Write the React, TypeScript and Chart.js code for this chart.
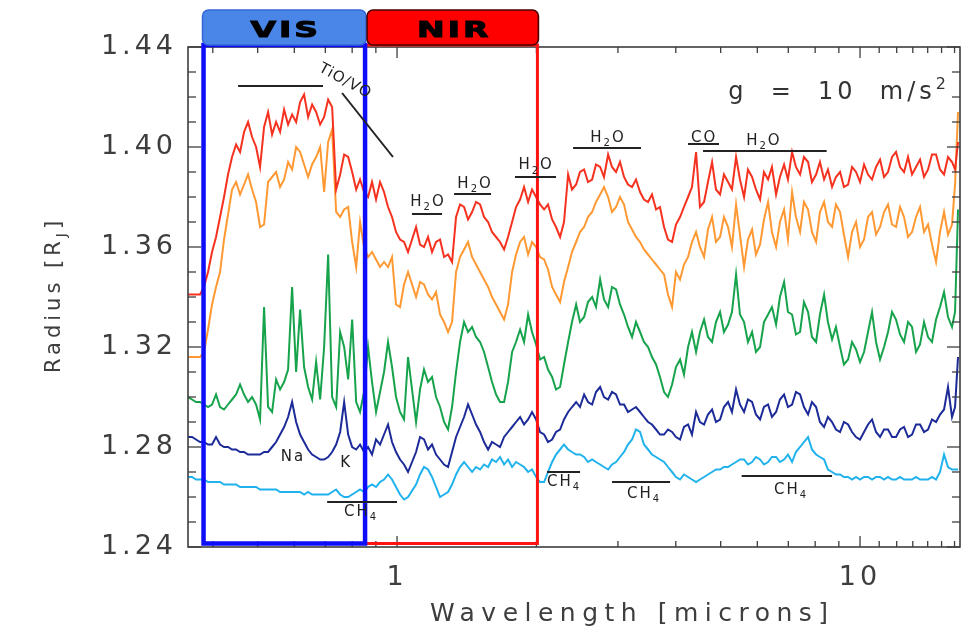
import React, { useEffect, useRef } from 'react';
import { Chart, registerables } from 'chart.js';

Chart.register(...registerables);

// Wavelength grid [microns]
const wavelengths = [
  0.3536, 0.3607, 0.3680, 0.3754, 0.3829, 0.3906, 0.3985, 0.4065,
  0.4147, 0.4230, 0.4315, 0.4402, 0.4491, 0.4581, 0.4673, 0.4767,
  0.4863, 0.4961, 0.5060, 0.5162, 0.5266, 0.5372, 0.5480, 0.5590,
  0.5703, 0.5817, 0.5934, 0.6054, 0.6175, 0.6299, 0.6426, 0.6555,
  0.6687, 0.6822, 0.6959, 0.7099, 0.7241, 0.7387, 0.7536, 0.7687,
  0.7842, 0.8000, 0.8161, 0.8320, 0.8487, 0.8658, 0.8830, 0.9009,
  0.9190, 0.9374, 0.9562, 0.9754, 0.9950, 1.0150, 1.0354, 1.0562,
  1.0992, 1.1212, 1.1436, 1.1666, 1.1901, 1.2141, 1.2385, 1.2634,
  1.2888, 1.3147, 1.3411, 1.3680, 1.3956, 1.4235, 1.4524, 1.4813,
  1.5113, 1.5414, 1.5727, 1.6039, 1.6365, 1.6691, 1.7030, 1.7368,
  1.7721, 1.8073, 1.8441, 1.8806, 1.9190, 1.9569, 1.9969, 2.0363,
  2.0779, 2.1188, 2.1623, 2.2047, 2.2500, 2.2942, 2.3415, 2.3872,
  2.4366, 2.4841, 2.5355, 2.5849, 2.6384, 2.6898, 2.7455, 2.7990,
  2.8570, 2.9126, 2.9717, 3.0308, 3.0924, 3.1537, 3.2180, 3.2816,
  3.3487, 3.4148, 3.4846, 3.5534, 3.6260, 3.6975, 3.7731, 3.8476,
  3.9265, 4.0037, 4.0857, 4.1662, 4.2516, 4.3352, 4.4242, 4.5111,
  4.6038, 4.6942, 4.7907, 4.8846, 4.9847, 5.0829, 5.1874, 5.2891,
  5.3980, 5.5038, 5.6172, 5.7271, 5.8453, 5.9595, 6.0826, 6.2013,
  6.3296, 6.4529, 6.5862, 6.7145, 6.8536, 6.9873, 7.1318, 7.2708,
  7.4214, 7.5658, 7.7227, 7.8728, 8.0363, 8.1923, 8.3626, 8.5247,
  8.7017, 8.8704, 9.0550, 9.2304, 9.4226, 9.6101, 9.8031, 10.000,
  10.201, 10.406, 10.615, 10.828, 11.046, 11.268, 11.494, 11.725,
  11.960, 12.201, 12.446, 12.696, 12.951, 13.211, 13.477, 13.747,
  14.024, 14.304, 14.593, 14.884, 15.186, 15.488, 15.800, 16.04, 16.28,
];

// Radius [R_J] for each model spectrum
const radiusRed = [
  1.341, 1.341, 1.341, 1.341, 1.344, 1.350, 1.358, 1.364,
  1.372, 1.380, 1.389, 1.396, 1.401, 1.398, 1.406, 1.410,
  1.404, 1.400, 1.392, 1.408, 1.414, 1.405, 1.410, 1.406,
  1.415, 1.409, 1.413, 1.410, 1.418, 1.421, 1.412, 1.417,
  1.414, 1.409, 1.412, 1.419, 1.416, 1.383, 1.389, 1.397,
  1.396, 1.390, 1.383, 1.387, 1.382, 1.380, 1.386, 1.379,
  1.386, 1.382, 1.376, 1.372, 1.366, 1.363, 1.362, 1.358,
  1.368, 1.361, 1.360, 1.364, 1.358, 1.362, 1.363, 1.356,
  1.357, 1.354, 1.372, 1.377, 1.376, 1.371, 1.374, 1.378,
  1.377, 1.372, 1.370, 1.366, 1.364, 1.362, 1.359, 1.364,
  1.370, 1.376, 1.379, 1.384, 1.378, 1.383, 1.380, 1.377,
  1.375, 1.377, 1.371, 1.368, 1.364, 1.370, 1.389, 1.383,
  1.385, 1.390, 1.391, 1.386, 1.387, 1.393, 1.392, 1.388,
  1.397, 1.392, 1.390, 1.394, 1.388, 1.385, 1.384, 1.387,
  1.382, 1.379, 1.378, 1.381, 1.375, 1.376, 1.368, 1.363,
  1.362, 1.369, 1.372, 1.376, 1.380, 1.384, 1.398, 1.376,
  1.378, 1.386, 1.394, 1.383, 1.381, 1.389, 1.386, 1.383,
  1.396, 1.387, 1.380, 1.391, 1.388, 1.383, 1.379, 1.390,
  1.387, 1.392, 1.381, 1.388, 1.393, 1.387, 1.398, 1.392,
  1.389, 1.396, 1.394, 1.386, 1.389, 1.394, 1.387, 1.391,
  1.384, 1.388, 1.390, 1.384, 1.385, 1.392, 1.390, 1.386,
  1.393, 1.389, 1.387, 1.392, 1.395, 1.388, 1.390, 1.396,
  1.398, 1.392, 1.390, 1.396, 1.389, 1.392, 1.395, 1.388,
  1.391, 1.397, 1.397, 1.391, 1.389, 1.396, 1.394, 1.391, 1.402,
];
const radiusOrange = [
  1.316, 1.316, 1.316, 1.316, 1.318, 1.327, 1.337, 1.344,
  1.350, 1.363, 1.373, 1.383, 1.386, 1.381, 1.385, 1.389,
  1.383, 1.378, 1.368, 1.369, 1.386, 1.388, 1.390, 1.384,
  1.387, 1.394, 1.391, 1.400, 1.398, 1.393, 1.388, 1.393,
  1.396, 1.400, 1.382, 1.402, 1.407, 1.374, 1.372, 1.375,
  1.376, 1.362, 1.352, 1.370, 1.360, 1.356, 1.358, 1.355,
  1.352, 1.354, 1.352, 1.356, 1.337, 1.336, 1.345, 1.350,
  1.340, 1.346, 1.345, 1.341, 1.339, 1.342, 1.333, 1.330,
  1.326, 1.330, 1.350, 1.356, 1.359, 1.362, 1.356, 1.353,
  1.350, 1.347, 1.344, 1.340, 1.337, 1.334, 1.331, 1.337,
  1.350, 1.357, 1.362, 1.364, 1.357, 1.362, 1.360, 1.356,
  1.355, 1.351, 1.344, 1.341, 1.338, 1.346, 1.352, 1.358,
  1.362, 1.366, 1.368, 1.372, 1.374, 1.378, 1.381, 1.384,
  1.380, 1.374, 1.376, 1.380, 1.377, 1.370, 1.367, 1.364,
  1.362, 1.359, 1.357, 1.355, 1.353, 1.351, 1.349, 1.341,
  1.336, 1.350, 1.347, 1.353, 1.356, 1.362, 1.366, 1.360,
  1.356, 1.367, 1.372, 1.362, 1.364, 1.372, 1.368, 1.360,
  1.377, 1.365, 1.352, 1.363, 1.367, 1.357, 1.361, 1.371,
  1.378, 1.366, 1.360, 1.370, 1.375, 1.363, 1.382, 1.372,
  1.366, 1.378, 1.375, 1.366, 1.362, 1.374, 1.378, 1.370,
  1.368, 1.377, 1.374, 1.365, 1.356, 1.366, 1.370, 1.360,
  1.363, 1.372, 1.374, 1.365, 1.368, 1.374, 1.377, 1.369,
  1.368, 1.376, 1.372, 1.364, 1.366, 1.372, 1.376, 1.366,
  1.369, 1.361, 1.354, 1.366, 1.374, 1.365, 1.369, 1.385, 1.414,
];
const radiusGreen = [
  1.300, 1.299, 1.298, 1.298, 1.297, 1.296, 1.297, 1.301,
  1.296, 1.295, 1.297, 1.299, 1.301, 1.305, 1.301, 1.298,
  1.300, 1.297, 1.291, 1.336, 1.296, 1.294, 1.307, 1.303,
  1.306, 1.311, 1.344, 1.310, 1.335, 1.312, 1.304, 1.299,
  1.314, 1.299, 1.320, 1.357, 1.300, 1.296, 1.326, 1.320,
  1.307, 1.331, 1.298, 1.294, 1.302, 1.320, 1.306, 1.294,
  1.302, 1.310, 1.322, 1.312, 1.300, 1.294, 1.291, 1.316,
  1.290, 1.303, 1.311, 1.306, 1.308, 1.300, 1.296, 1.290,
  1.287, 1.296, 1.310, 1.322, 1.330, 1.326, 1.328, 1.324,
  1.322, 1.318, 1.312, 1.306, 1.301, 1.298, 1.298, 1.306,
  1.318, 1.322, 1.327, 1.322, 1.333, 1.326, 1.321, 1.315,
  1.316, 1.311, 1.308, 1.303, 1.304, 1.313, 1.322, 1.330,
  1.337, 1.330, 1.332, 1.338, 1.340, 1.336, 1.347, 1.339,
  1.336, 1.344, 1.343, 1.337, 1.333, 1.328, 1.324, 1.330,
  1.326, 1.322, 1.320, 1.316, 1.313, 1.308, 1.302, 1.300,
  1.305, 1.312, 1.315, 1.309, 1.320, 1.326, 1.318, 1.326,
  1.331, 1.324, 1.322, 1.330, 1.334, 1.326, 1.329, 1.334,
  1.349, 1.333, 1.330, 1.322, 1.326, 1.318, 1.320, 1.330,
  1.333, 1.336, 1.329, 1.340, 1.346, 1.334, 1.333, 1.325,
  1.326, 1.338, 1.334, 1.324, 1.322, 1.333, 1.341, 1.330,
  1.323, 1.328, 1.320, 1.313, 1.315, 1.322, 1.319, 1.314,
  1.318, 1.326, 1.334, 1.322, 1.315, 1.320, 1.326, 1.334,
  1.331, 1.325, 1.322, 1.330, 1.328, 1.318, 1.321, 1.330,
  1.324, 1.322, 1.331, 1.336, 1.342, 1.332, 1.328, 1.334, 1.375,
];
const radiusDarkBlue = [
  1.284, 1.284, 1.283, 1.282, 1.282, 1.281, 1.281, 1.284,
  1.281, 1.280, 1.280, 1.279, 1.279, 1.278, 1.278, 1.277,
  1.277, 1.277, 1.277, 1.278, 1.278, 1.280, 1.282, 1.285,
  1.288, 1.292, 1.298, 1.290, 1.285, 1.282, 1.279, 1.277,
  1.276, 1.275, 1.275, 1.276, 1.278, 1.281, 1.286, 1.298,
  1.285, 1.280, 1.279, 1.281, 1.278, 1.280, 1.277, 1.283,
  1.281, 1.285, 1.289, 1.282, 1.278, 1.275, 1.273, 1.270,
  1.278, 1.284, 1.283, 1.279, 1.281, 1.277, 1.275, 1.273,
  1.272, 1.278, 1.284, 1.288, 1.292, 1.297, 1.293, 1.289,
  1.286, 1.282, 1.279, 1.282, 1.281, 1.280, 1.284, 1.286,
  1.288, 1.290, 1.292, 1.289, 1.291, 1.294, 1.291, 1.286,
  1.285, 1.282, 1.283, 1.286, 1.287, 1.291, 1.294, 1.296,
  1.298, 1.296, 1.301, 1.298, 1.297, 1.302, 1.304, 1.300,
  1.299, 1.302, 1.301, 1.297, 1.297, 1.294, 1.295, 1.296,
  1.294, 1.292, 1.290, 1.289, 1.287, 1.285, 1.285, 1.287,
  1.286, 1.284, 1.283, 1.288, 1.289, 1.285, 1.294, 1.290,
  1.289, 1.293, 1.295, 1.290, 1.291, 1.296, 1.298, 1.294,
  1.303, 1.297, 1.294, 1.299, 1.298, 1.293, 1.291, 1.296,
  1.297, 1.292, 1.294, 1.299, 1.301, 1.296, 1.297, 1.302,
  1.301, 1.296, 1.293, 1.298, 1.296, 1.290, 1.288, 1.292,
  1.290, 1.287, 1.286, 1.290, 1.289, 1.286, 1.284, 1.283,
  1.286, 1.289, 1.291, 1.286, 1.284, 1.287, 1.287, 1.284,
  1.284, 1.287, 1.288, 1.284, 1.285, 1.289, 1.289, 1.286,
  1.287, 1.291, 1.290, 1.293, 1.295, 1.304, 1.292, 1.296, 1.316,
];
const radiusLightBlue = [
  1.268, 1.268, 1.267, 1.267, 1.267, 1.266, 1.266, 1.266,
  1.266, 1.265, 1.265, 1.265, 1.265, 1.264, 1.264, 1.264,
  1.264, 1.264, 1.263, 1.263, 1.263, 1.263, 1.263, 1.262,
  1.262, 1.262, 1.262, 1.262, 1.262, 1.261, 1.262, 1.261,
  1.261, 1.261, 1.261, 1.261, 1.262, 1.263, 1.261, 1.260,
  1.260, 1.261, 1.262, 1.263, 1.262, 1.264, 1.265, 1.264,
  1.266, 1.267, 1.269, 1.267, 1.264, 1.261, 1.259, 1.260,
  1.265, 1.269, 1.272, 1.271, 1.268, 1.264, 1.260, 1.261,
  1.262, 1.265, 1.269, 1.272, 1.274, 1.272, 1.270, 1.272,
  1.271, 1.273, 1.272, 1.275, 1.274, 1.276, 1.273, 1.275,
  1.272, 1.274, 1.273, 1.272, 1.270, 1.271, 1.268, 1.266,
  1.266, 1.270, 1.274, 1.277, 1.279, 1.281, 1.279, 1.278,
  1.277, 1.277, 1.276, 1.274, 1.275, 1.274, 1.273, 1.272,
  1.271, 1.273, 1.274, 1.276, 1.278, 1.281, 1.283, 1.287,
  1.286, 1.281, 1.279, 1.277, 1.276, 1.275, 1.274, 1.272,
  1.270, 1.268, 1.267, 1.269, 1.268, 1.267, 1.266, 1.267,
  1.268, 1.269, 1.270, 1.271, 1.271, 1.272, 1.272, 1.273,
  1.274, 1.275, 1.275, 1.273, 1.274, 1.276, 1.275, 1.273,
  1.274, 1.276, 1.276, 1.274, 1.275, 1.277, 1.274, 1.278,
  1.280, 1.282, 1.284, 1.279, 1.277, 1.276, 1.275, 1.271,
  1.270, 1.269, 1.269, 1.268, 1.268, 1.267, 1.268, 1.267,
  1.268, 1.268, 1.267, 1.268, 1.268, 1.267, 1.268, 1.267,
  1.267, 1.268, 1.267, 1.267, 1.267, 1.268, 1.267, 1.267,
  1.267, 1.268, 1.267, 1.270, 1.277, 1.272, 1.271, 1.271, 1.271,
];

// Axis ticks
const yTickValues = [1.24, 1.28, 1.32, 1.36, 1.40, 1.44];
const xLabelTicks = [1, 10];
const xMinorTicks = [0.4, 0.5, 0.6, 0.7, 0.8, 0.9, 2, 3, 4, 5, 6, 7, 8, 9, 11, 12, 13, 14, 15, 16];

// Spectral bands (microns)
const visBand = [0.382, 0.853];
const nirBand = [0.853, 2.01];

// Molecular feature markers: bar from..to at level, label centred at (at, textLevel)
const featureMarks = [
  { text: 'H_2O', from: 1.077, to: 1.251, level: 1.3732, at: 1.161, textLevel: 1.3788 },
  { text: 'H_2O', from: 1.328, to: 1.596, level: 1.3812, at: 1.467, textLevel: 1.386 },
  { text: 'H_2O', from: 1.798, to: 2.205, level: 1.388, at: 1.987, textLevel: 1.3934 },
  { text: 'H_2O', from: 2.40, to: 3.365, level: 1.3996, at: 2.842, textLevel: 1.4044 },
  { text: 'CO', from: 4.251, to: 4.959, level: 1.4012, at: 4.583, textLevel: 1.4044 },
  { text: 'H_2O', from: 4.58, to: 8.47, level: 1.3984, at: 6.17, textLevel: 1.4032 },
  { text: 'CH_4', from: 0.7064, to: 1.0, level: 1.258, at: 0.832, textLevel: 1.2548 },
  { text: 'CH_4', from: 2.108, to: 2.485, level: 1.270, at: 2.284, textLevel: 1.2668 },
  { text: 'CH_4', from: 2.913, to: 3.888, level: 1.266, at: 3.398, textLevel: 1.262 },
  { text: 'CH_4', from: 5.55, to: 8.70, level: 1.2684, at: 7.06, textLevel: 1.2636 },
];
const lineLabels = [
  { text: 'Na', at: 0.5932, textLevel: 1.2768 },
  { text: 'K', at: 0.7724, textLevel: 1.2744 },
];

const seriesList = [
  { name: 'Model 1', values: radiusRed, color: '#f5321f' },
  { name: 'Model 2', values: radiusOrange, color: '#ff9933' },
  { name: 'Model 3', values: radiusGreen, color: '#17a34c' },
  { name: 'Model 4', values: radiusDarkBlue, color: '#1c2b98' },
  { name: 'Model 5', values: radiusLightBlue, color: '#20b2ec' },
];

const FONT = '"DejaVu Sans", sans-serif';
const AXIS_COLOR = '#3e3e3e';

function drawRich(ctx: any, text: string, x: number, y: number, size: number, spacing: number, align: string, color: string) {
  const parts: { t: string; mode: string }[] = [];
  let i = 0;
  while (i < text.length) {
    const c = text[i];
    if ((c === '_' || c === '^') && i + 1 < text.length) {
      parts.push({ t: text[i + 1], mode: c });
      i += 2;
    } else {
      const last = parts[parts.length - 1];
      if (last && last.mode === '') last.t += c;
      else parts.push({ t: c, mode: '' });
      i += 1;
    }
  }
  ctx.save();
  ctx.fillStyle = color;
  ctx.textBaseline = 'alphabetic';
  ctx.textAlign = 'left';
  ctx.letterSpacing = spacing + 'px';
  const fonts = parts.map((p) => `${p.mode ? Math.round(size * 0.68) : size}px ${FONT}`);
  const widths = parts.map((p, k) => {
    ctx.font = fonts[k];
    return ctx.measureText(p.t).width;
  });
  const total = widths.reduce((a, b) => a + b, 0) - spacing;
  let cx = align === 'center' ? x - total / 2 : align === 'right' ? x - total : x;
  parts.forEach((p, k) => {
    ctx.font = fonts[k];
    const dy = p.mode === '_' ? size * 0.3 : p.mode === '^' ? -size * 0.42 : 0;
    ctx.fillText(p.t, cx, y + dy);
    cx += widths[k];
  });
  ctx.restore();
}

const decorPlugin = {
  id: 'decor',
  beforeDraw(chart: any) {
    chart.ctx.letterSpacing = '4px';
  },
  beforeDatasetsDraw(chart: any) {
    chart.ctx.letterSpacing = '0px';
  },
  afterDatasetsDraw(chart: any) {
    const ctx = chart.ctx;
    const xs = chart.scales.x;
    const ys = chart.scales.y;
    const { left, right, top, bottom } = chart.chartArea;
    const px = (v: number) => xs.getPixelForValue(v);
    const py = (v: number) => ys.getPixelForValue(v);
    const seg = (x1: number, y1: number, x2: number, y2: number) => {
      ctx.beginPath();
      ctx.moveTo(x1, y1);
      ctx.lineTo(x2, y2);
      ctx.stroke();
    };

    ctx.save();
    ctx.letterSpacing = '0px';

    // Frame and inward ticks
    ctx.strokeStyle = AXIS_COLOR;
    ctx.lineWidth = 1.3;
    xMinorTicks.forEach((v) => {
      const p = px(v);
      seg(p, bottom, p, bottom - 6);
      seg(p, top, p, top + 6);
    });
    xLabelTicks.forEach((v) => {
      const p = px(v);
      seg(p, bottom, p, bottom - 11);
      seg(p, top, p, top + 11);
    });
    for (let k = 0; k <= 20; k++) {
      const v = 1.24 + k * 0.01;
      const p = py(v);
      const len = k % 4 === 0 ? 13 : 8;
      seg(left, p, left + len, p);
      seg(right, p, right - len, p);
    }
    ctx.lineWidth = 1.6;
    ctx.strokeRect(left, top, right - left, bottom - top);

    // Band boxes
    const vx1 = px(visBand[0]);
    const vx2 = px(visBand[1]);
    const nx1 = px(nirBand[0]);
    const nx2 = px(nirBand[1]);
    ctx.strokeStyle = '#ff1212';
    ctx.lineWidth = 3;
    ctx.strokeRect(nx1, top - 2, nx2 - nx1, bottom - top - 1.5);
    ctx.strokeStyle = '#0d0dfa';
    ctx.lineWidth = 4.5;
    ctx.strokeRect(vx1, top - 2, vx2 - vx1, bottom - top - 1.5);

    // Tabs
    const drawTab = (x1: number, x2: number, fill: string, stroke: string, label: string) => {
      const y1 = top - 37;
      const y2 = top - 2;
      ctx.beginPath();
      ctx.roundRect(x1, y1, x2 - x1, y2 - y1, 6);
      ctx.fillStyle = fill;
      ctx.fill();
      ctx.lineWidth = 1.6;
      ctx.strokeStyle = stroke;
      ctx.stroke();
      ctx.save();
      ctx.translate((x1 + x2) / 2, y2 - 8);
      ctx.scale(1.5, 1);
      ctx.font = `bold 22px ${FONT}`;
      ctx.letterSpacing = '2px';
      ctx.textAlign = 'center';
      ctx.textBaseline = 'alphabetic';
      ctx.fillStyle = '#000000';
      ctx.strokeStyle = '#000000';
      ctx.lineWidth = 1;
      ctx.fillText(label, 1, 0);
      ctx.strokeText(label, 1, 0);
      ctx.restore();
    };
    drawTab(vx1 - 1, vx2 + 1, '#4a86e8', '#3567d6', 'VIS');
    drawTab(nx1 + 2, nx2 + 1, '#ff0000', '#4a0000', 'NIR');

    // Feature markers
    ctx.strokeStyle = '#222222';
    ctx.lineWidth = 2;
    featureMarks.forEach((m) => {
      seg(px(m.from), py(m.level), px(m.to), py(m.level));
      drawRich(ctx, m.text, px(m.at), py(m.textLevel) + 5.5, 15, 2, 'center', '#222222');
    });
    lineLabels.forEach((m) => {
      drawRich(ctx, m.text, px(m.at), py(m.textLevel) + 5.5, 15, 2, 'center', '#222222');
    });

    // TiO/VO marker
    ctx.strokeStyle = '#222222';
    ctx.lineWidth = 2;
    seg(px(0.4536), py(1.4244), px(0.692), py(1.4244));
    seg(px(0.7608), py(1.4216), px(0.98), py(1.396));
    ctx.save();
    ctx.translate(px(0.7724), py(1.4268));
    ctx.rotate(0.5);
    drawRich(ctx, 'TiO/VO', 0, 5, 15, 1, 'center', '#222222');
    ctx.restore();

    // Gravity label
    drawRich(ctx, 'g  =  10  m/s^2', right - 14, top + 52, 24, 4, 'right', '#333333');

    // Y axis title with subscript
    ctx.save();
    ctx.translate(60, (top + bottom) / 2);
    ctx.rotate(-Math.PI / 2);
    drawRich(ctx, 'Radius [R_J]', 0, 0, 21, 4, 'center', AXIS_COLOR);
    ctx.restore();

    // X axis title
    drawRich(ctx, 'Wavelength [microns]', 629, bottom + 74, 25, 6.5, 'center', AXIS_COLOR);

    ctx.restore();
  },
};

export default function App() {
  const ref = useRef<HTMLCanvasElement>(null);
  useEffect(() => {
    const canvas = ref.current;
    if (!canvas) return;
    const chart = new Chart(canvas, {
      type: 'line',
      data: {
        datasets: seriesList.map((s) => ({
          label: s.name,
          data: wavelengths.map((w, i) => ({ x: w, y: s.values[i] })),
          borderColor: s.color,
          backgroundColor: s.color,
          borderWidth: 2,
          pointRadius: 0,
          tension: 0,
          fill: false,
        })),
      },
      options: {
        responsive: false,
        animation: false,
        devicePixelRatio: 1,
        layout: { padding: { top: 47, right: 12, left: 0, bottom: 0 } },
        plugins: { legend: { display: false }, tooltip: { enabled: false } },
        scales: {
          x: {
            type: 'logarithmic',
            min: 0.3536,
            max: 16.44,
            grid: { display: false, drawTicks: false },
            border: { display: false },
            afterBuildTicks: (scale: any) => {
              scale.ticks = xLabelTicks.map((v) => ({ value: v }));
            },
            afterFit: (scale: any) => {
              scale.height = 88;
            },
            ticks: {
              autoSkip: false,
              maxRotation: 0,
              padding: 15,
              color: AXIS_COLOR,
              font: { family: FONT, size: 27 },
              callback: (v: any) => String(v),
            },
            title: { display: false },
          },
          y: {
            type: 'linear',
            min: 1.24,
            max: 1.44,
            grid: { display: false, drawTicks: false },
            border: { display: false },
            afterBuildTicks: (scale: any) => {
              scale.ticks = yTickValues.map((v) => ({ value: v }));
            },
            afterFit: (scale: any) => {
              scale.width = 188;
            },
            ticks: {
              padding: 11,
              color: AXIS_COLOR,
              font: { family: FONT, size: 27 },
              callback: (v: any) => Number(v).toFixed(2),
            },
          },
        },
      },
      plugins: [decorPlugin],
    } as any);
    return () => chart.destroy();
  }, []);
  return (
    <div style={{ position: 'fixed', left: 0, top: 0, width: 972, height: 635, background: '#ffffff' }}>
      <canvas ref={ref} width={972} height={635} style={{ display: 'block', width: 972, height: 635 }} />
    </div>
  );
}
